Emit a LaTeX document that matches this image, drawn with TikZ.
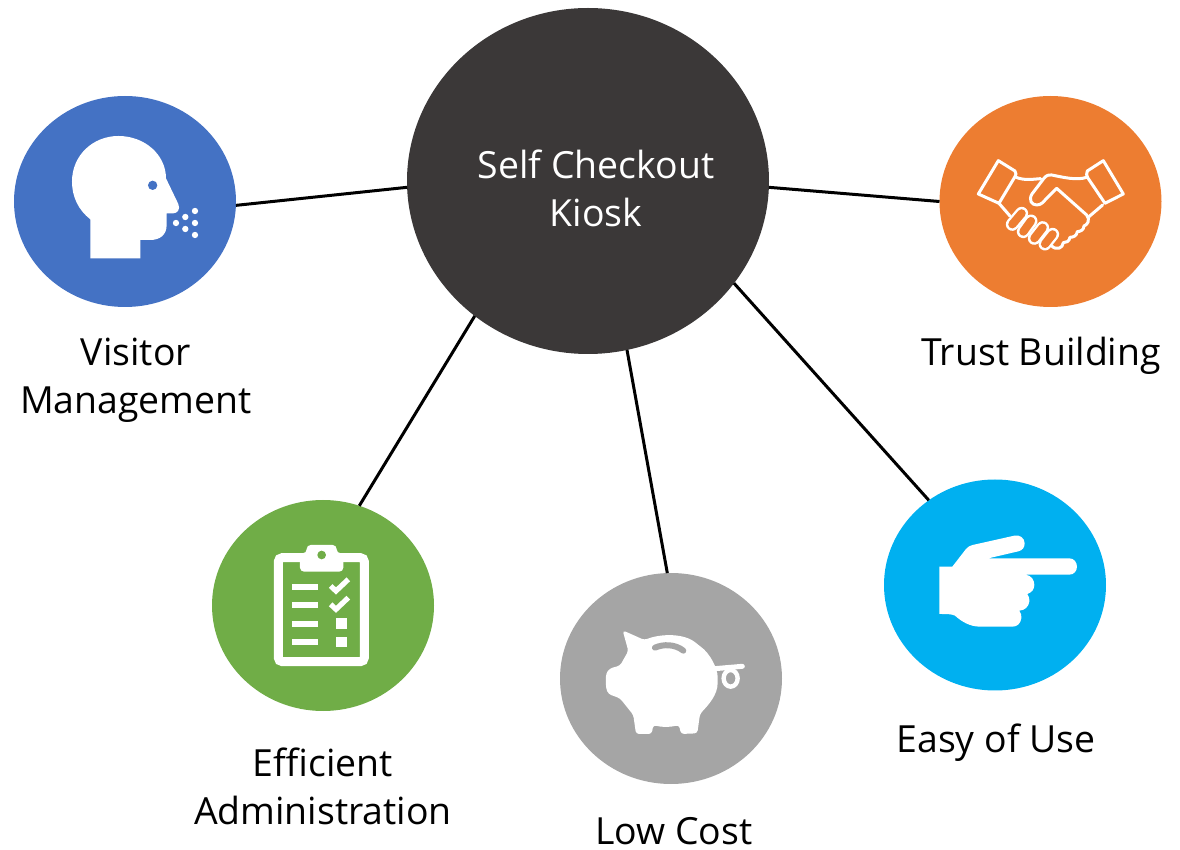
\documentclass[tikz,border=0pt]{standalone}
\usepackage{fontspec}
\setmainfont{Open Sans}
\usetikzlibrary{shapes.geometric}

\definecolor{kiosk_col}{HTML}{3B3838}
\definecolor{blue_col}{HTML}{4472C4}
\definecolor{orange_col}{HTML}{ED7D31}
\definecolor{green_col}{HTML}{70AD47}
\definecolor{gray_col}{HTML}{A5A5A5}
\definecolor{cyan_col}{HTML}{00B0F0}

\begin{document}
\begin{tikzpicture}[x=0.5pt,y=-0.5pt,
    main_node/.style={ellipse,fill=#1,inner sep=0pt,outer sep=0pt,minimum width=111pt,minimum height=105.5pt},
    label_node/.style={align=center,font=\fontsize{18.7}{24}\selectfont,text=#1},
    label_node/.default=black,
    link/.style={black,line width=1.5pt},
    icon_line/.style={white,line width=#1,line join=round,line cap=round},
    icon_line/.default=1.5pt]

    \useasboundingbox (0,0) rectangle (1180,850);

    \node[main_node=kiosk_col,minimum width=181pt,minimum height=173pt] (kiosk) at (588,181) {};
    \node[main_node=blue_col] (visitor) at (125,201.5) {};
    \node[main_node=orange_col] (trust) at (1050.5,201.5) {};
    \node[main_node=green_col] (admin) at (323,605.5) {};
    \node[main_node=gray_col] (cost) at (671,678.5) {};
    \node[main_node=cyan_col] (easy) at (995,585) {};

    \node[label_node=white] (kiosk_text) at (596,188) {Self Checkout\\Kiosk};
    \node[label_node] (visitor_text) at (136,380) {Visitor\\Management};
    \node[label_node] (trust_text) at (1041,356) {Trust Building};
    \node[label_node] (admin_text) at (323,786) {Efficient\\Administration};
    \node[label_node,inner sep=0pt,text depth=0pt,anchor=base] (cost_text) at (674,844) {Low Cost};
    \node[label_node] (easy_text) at (996,743) {Easy of Use};

    \draw[link] (visitor.-2.3) -- (kiosk.182.3);
    \draw[link] (kiosk.-2.2) -- (trust.180.3);
    \draw[link] (kiosk.230.3) -- (admin.70.3);
    \draw[link] (kiosk.-77) -- (cost.92.2);
    \draw[link] (kiosk.-35.9) -- (easy.128.25);

    % head
    \begin{scope}[shift={(0,80)},scale=0.3333]
        \fill[white] (271,535) -- (271,418) .. controls (235,390) and (216,350) .. (216,305)
            .. controls (216,225) and (280,168) .. (355,168) .. controls (435,168) and (498,225) .. (498,295)
            -- (535,372) .. controls (542,388) and (532,400) .. (520,400) -- (500,400) -- (500,435)
            .. controls (500,465) and (480,480) .. (450,480) -- (421,480) -- (421,535) -- cycle;
        \fill[blue_col] (458,316) circle (14);
        \foreach \dotx/\doty in {585/393, 556/411, 528/429, 585/429, 556/447, 585/465}
            \fill[white] (\dotx,\doty) circle (9.5);
    \end{scope}

    % handshake
    \begin{scope}[shift={(930,90)},scale=0.3333]
        \draw[icon_line] (205,212) -- (255,243) .. controls (260,250) and (258,255) .. (255,260) -- (207,340) -- (145,312) -- cycle;
        \draw[icon_line] (520,212) -- (472,243) .. controls (468,250) and (470,258) .. (473,263) -- (525,340) -- (580,312) -- cycle;
        \draw[icon_line] (258,262) .. controls (285,272) and (305,268) .. (332,266);
        \draw[icon_line] (470,262) .. controls (440,272) and (400,262) .. (365,255) .. controls (352,253) and (345,260) .. (338,270)
            -- (306,312) .. controls (295,330) and (305,345) .. (320,345) .. controls (335,345) and (340,335) .. (350,325)
            -- (380,295) -- (470,375) .. controls (482,390) and (472,405) .. (462,408) .. controls (462,420) and (450,425) .. (442,425)
            .. controls (440,438) and (430,442) .. (420,442) .. controls (418,455) and (408,458) .. (400,458)
            .. controls (398,475) and (380,482) .. (365,468);
        \draw[icon_line] (207,340) -- (240,378);
        \draw[icon_line] (518,345) -- (477,380);
        \foreach \fax/\fay/\fbx/\fby in {247/403/275/370, 280/425/303/393, 313/445/338/413, 345/462/368/433} {
            \draw[white,line width=6.5pt,line cap=round] (\fax,\fay) -- (\fbx,\fby);
            \draw[orange_col,line width=4.1pt,line cap=round] (\fax,\fay) -- (\fbx,\fby);
        }
    \end{scope}

    % clipboard
    \begin{scope}[shift={(210,500)},scale=0.3333]
        \draw[white,line width=4.5pt,rounded corners=2pt] (205,173) rectangle (463,485);
        \fill[white,rounded corners=2pt] (270,215) -- (270,160) -- (290,160) -- (290,135) -- (380,135) -- (380,160) -- (400,160) -- (400,215) -- cycle;
        \fill[green_col] (335,165) circle (13);
        \foreach \rowy in {261,316,371,426}
            \fill[white] (247,\rowy-9) rectangle (325,\rowy+9);
        \foreach \rowy in {0,55}
            \draw[white,line width=2.6pt] (362,258+\rowy) -- (378,273+\rowy) -- (415,238+\rowy);
        \fill[white] (378,355) rectangle (411,387);
        \fill[white] (378,410) rectangle (411,442);
    \end{scope}

    % piggy bank
    \begin{scope}[shift={(555,570)},scale=0.3333]
        \fill[white,rounded corners=1.5pt] (203,181) -- (268,210) .. controls (320,190) and (390,190) .. (430,225)
            .. controls (465,250) and (488,295) .. (488,330) .. controls (488,375) and (460,405) .. (435,432)
            -- (427,490) -- (378,492) -- (372,465) .. controls (345,472) and (320,472) .. (295,465) -- (290,492)
            -- (243,492) -- (235,435) -- (195,385) -- (160,372) -- (153,355) -- (153,310) -- (165,295) -- (195,287)
            -- (220,243) -- cycle;
        \draw[gray_col,line width=3pt,line cap=round] (300,233) .. controls (325,222) and (360,222) .. (385,242);
        \draw[white,line width=2.5pt,line cap=round] (480,296) -- (562,289);
        \draw[white,line width=2.2pt] (527,325) ellipse (21 and 25);
    \end{scope}

    % pointing hand
    \begin{scope}[shift={(880,480)},scale=0.3333]
        \fill[white] (178,260) -- (217,260) -- (258,207) .. controls (264,200) and (270,197) .. (278,195)
            -- (403,167) .. controls (420,163) and (434,175) .. (434,190) .. controls (434,203) and (427,211) .. (415,214)
            -- (325,235) -- (568,235) .. controls (582,235) and (591,247) .. (591,260) .. controls (591,273) and (582,284) .. (568,284)
            -- (437,284) .. controls (455,287) and (463,300) .. (463,315) .. controls (463,328) and (455,338) .. (442,342)
            .. controls (448,350) and (449,358) .. (448,365) .. controls (446,380) and (435,391) .. (418,392)
            .. controls (424,400) and (425,408) .. (424,415) .. controls (422,430) and (412,440) .. (398,440)
            -- (300,440) .. controls (270,440) and (245,425) .. (225,407) .. controls (215,402) and (200,402) .. (178,402) -- cycle;
    \end{scope}

\end{tikzpicture}
\end{document}
